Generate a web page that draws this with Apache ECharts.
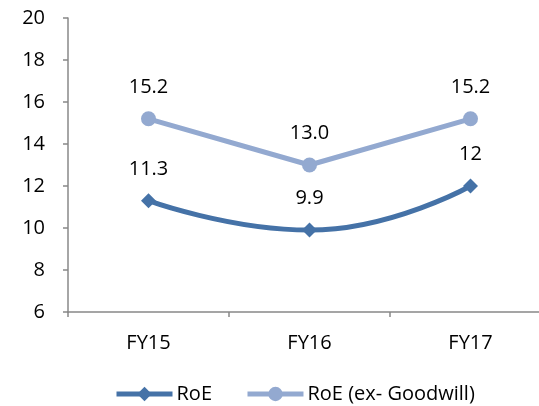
<!DOCTYPE html>
<html><head><meta charset="utf-8">
<script src="https://cdn.jsdelivr.net/npm/echarts@6/dist/echarts.min.js"></script>
<style>html,body{margin:0;padding:0;background:#fff}#c{width:539px;height:406px}</style>
</head><body><div id="c"></div>
<script>
const categories = ['FY15', 'FY16', 'FY17'];
const roe = [11.3, 9.9, 12];
const roeExGoodwill = [15.2, 13.0, 15.2];
const yTicks = [6, 8, 10, 12, 14, 16, 18, 20];

const FONT = 'Open Sans';
const chart = echarts.init(document.getElementById('c'), null, {renderer: 'canvas'});
chart.setOption({
  animation: false,
  textStyle: {fontFamily: FONT},
  grid: {left: 68, top: 18, width: 483, height: 294, outerBoundsMode: 'none', containLabel: false},
  xAxis: {
    type: 'category', data: categories, boundaryGap: true,
    axisLine: {lineStyle: {color: '#888', width: 1.5}},
    axisTick: {show: true, length: 5, lineStyle: {color: '#888', width: 1.5}},
    axisLabel: {color: '#000', fontSize: 20, fontFamily: FONT, margin: 21}
  },
  yAxis: {
    type: 'value', min: yTicks[0], max: yTicks[yTicks.length - 1], interval: 2,
    splitLine: {show: false},
    axisLine: {show: true, lineStyle: {color: '#888', width: 1.5}},
    axisTick: {show: true, length: 5, lineStyle: {color: '#888', width: 1.5}},
    axisLabel: {color: '#000', fontSize: 20, fontFamily: FONT, margin: 23}
  },
  legend: {
    top: 379, left: 109, itemWidth: 56, itemHeight: 18, itemGap: 33,
    lineStyle: {width: 5},
    textStyle: {color: '#000', fontSize: 20, fontFamily: FONT, padding: [0, 0, 0, -1]},
    data: ['RoE', 'RoE (ex- Goodwill)']
  },
  series: [
    {
      name: 'RoE', type: 'line', data: roe, smooth: 0.5,
      symbol: 'diamond', symbolSize: 15,
      lineStyle: {color: '#4572A7', width: 5},
      itemStyle: {color: '#4572A7'},
      label: {show: true, position: 'top', distance: 14, color: '#000', fontSize: 20, fontFamily: FONT}
    },
    {
      name: 'RoE (ex- Goodwill)', type: 'line', data: roeExGoodwill, smooth: false,
      symbol: 'circle', symbolSize: 15,
      lineStyle: {color: '#93A9D0', width: 5},
      itemStyle: {color: '#93A9D0'},
      label: {show: true, position: 'top', distance: 14, color: '#000', fontSize: 20, fontFamily: FONT,
        formatter: p => Number(p.value).toFixed(1)}
    }
  ]
});
</script></body></html>
